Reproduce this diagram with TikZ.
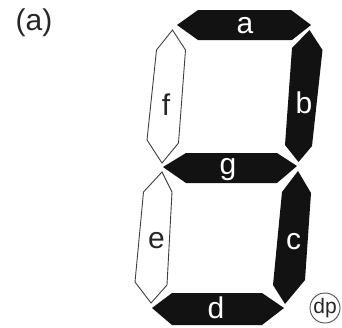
\documentclass[tikz,border=0pt]{standalone}
\usepackage{fontspec}
\setmainfont{Liberation Sans}
\begin{document}
\begin{tikzpicture}[x=1pt,y=-1pt,
  segon/.style={fill=black!93, draw=none},
  segoff/.style={fill=white, draw=black!75, line width=0.9pt, line join=miter},
  lblon/.style={text=white, font=\fontsize{30}{30}\selectfont, inner sep=0pt},
  lbloff/.style={text=black!85, font=\fontsize{30}{30}\selectfont, inner sep=0pt}]
\useasboundingbox (0,0) rectangle (342,327);
% segments
\fill[segon] (177,25) -- (198,10) -- (291,10) -- (311,25) -- (292,40) -- (198,40) -- cycle;
\fill[segon] (309.5,30) -- (322.5,50) -- (312,146) -- (298.5,162) -- (285,145) -- (292,48) -- cycle;
\fill[segon] (298,171) -- (311,193) -- (305,280) -- (285,304) -- (273,285) -- (282,192) -- cycle;
\fill[segon] (163,167) -- (186,153) -- (277,153) -- (297,166) -- (277,183) -- (186,183) -- cycle;
\fill[segon] (152,308) -- (172,293) -- (262,293) -- (284,308) -- (262,325) -- (172,325) -- cycle;
\draw[segoff] (172.5,30) -- (185.5,50) -- (178.5,143) -- (162,163) -- (147,140) -- (156.5,50) -- cycle;
\draw[segoff] (162,172) -- (172,192) -- (167,285) -- (151,303) -- (135,282) -- (143.5,192) -- cycle;
% labels
\node[lblon] (la) at (245,26) {a};
\node[lblon] (lb) at (304,102.5) {b};
\node[lblon] (lc) at (293.5,242) {c};
\node[lblon] (ld) at (216,308) {d};
\node[lblon] (lg) at (228,169.5) {g};
\node[lbloff] (lf) at (166,105) {f};
\node[lbloff] (le) at (156.5,241) {e};
\node[lbloff] (title) at (34,22.5) {(a)};
\node[circle, draw=black!70, line width=0.9pt, minimum size=30pt, inner sep=0pt] (dpc) at (325,308) {};
\node[text=black!85, font=\fontsize{21}{21}\selectfont, inner sep=0pt] (dp) at (dpc.center) {dp};
\end{tikzpicture}
\end{document}
